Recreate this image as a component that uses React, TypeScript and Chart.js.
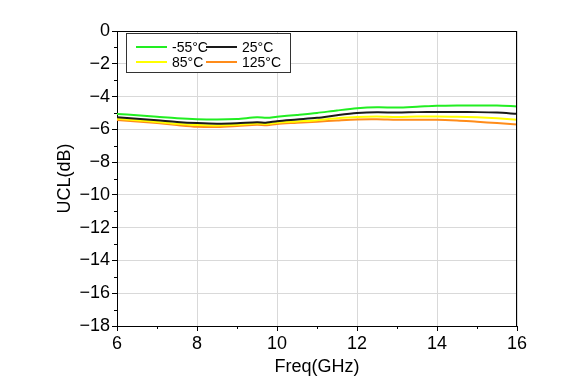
import React, { useEffect, useRef } from 'react';
import { Chart, registerables } from 'chart.js';

Chart.register(...registerables);

const freqGHz = [6, 6.5, 7, 7.5, 8, 8.5, 9, 9.5, 9.75, 10, 10.5, 11, 11.5, 12, 12.5, 13, 13.5, 14, 14.5, 15, 15.5, 16];
const uclM55 = [-5.06, -5.14, -5.23, -5.32, -5.38, -5.40, -5.37, -5.27, -5.30, -5.23, -5.12, -5.00, -4.85, -4.72, -4.66, -4.67, -4.62, -4.56, -4.54, -4.54, -4.55, -4.60];
const ucl25 = [-5.27, -5.36, -5.45, -5.55, -5.62, -5.66, -5.63, -5.57, -5.59, -5.50, -5.40, -5.30, -5.14, -5.01, -4.96, -4.98, -4.95, -4.94, -4.94, -4.95, -4.98, -5.05];
const ucl85 = [-5.36, -5.45, -5.55, -5.66, -5.74, -5.76, -5.72, -5.65, -5.68, -5.60, -5.52, -5.44, -5.33, -5.25, -5.22, -5.25, -5.22, -5.21, -5.23, -5.27, -5.33, -5.41];
const ucl125 = [-5.43, -5.52, -5.62, -5.74, -5.84, -5.86, -5.80, -5.72, -5.75, -5.67, -5.60, -5.53, -5.46, -5.40, -5.39, -5.42, -5.42, -5.41, -5.46, -5.54, -5.62, -5.71];

const seriesLabels = ['-55°C', '25°C', '85°C', '125°C'];
const seriesColors = ['#22ee22', '#1a1a1a', '#ffff00', '#ff8c1a'];
const xMinorTicks = [7, 9, 11, 13, 15];
const yMinorTicks = [-1, -3, -5, -7, -9, -11, -13, -15, -17];

const FONT = '"Liberation Sans", Arial, Helvetica, sans-serif';

const framePlugin = {
  id: 'frameAndMinor',
  afterDraw(chart: any) {
    const { ctx, chartArea: ca, scales } = chart;
    ctx.save();
    ctx.strokeStyle = '#000';
    ctx.lineWidth = 1;
    ctx.beginPath();
    const top = Math.round(ca.top) + 0.5;
    const right = Math.round(ca.right) - 0.5;
    ctx.moveTo(ca.left, top);
    ctx.lineTo(ca.right, top);
    ctx.moveTo(right, ca.top);
    ctx.lineTo(right, ca.bottom);
    const bottom = Math.round(ca.bottom);
    xMinorTicks.forEach((v) => {
      const px = Math.round(scales.x.getPixelForValue(v)) + 0.5;
      ctx.moveTo(px, bottom);
      ctx.lineTo(px, bottom + 3);
    });
    const left = Math.round(ca.left);
    yMinorTicks.forEach((v) => {
      const py = Math.round(scales.y.getPixelForValue(v)) + 0.5;
      ctx.moveTo(left, py);
      ctx.lineTo(left - 3, py);
    });
    ctx.stroke();

    // legend
    const x0 = Math.round(ca.left) + 9;
    const y0 = Math.round(ca.top) + 2;
    const w = 164;
    const h = 39;
    ctx.fillStyle = '#fff';
    ctx.fillRect(x0, y0, w, h);
    ctx.strokeStyle = '#333';
    ctx.strokeRect(x0 + 0.5, y0 + 0.5, w, h);
    ctx.font = `14px ${FONT}`;
    ctx.textBaseline = 'middle';
    ctx.textAlign = 'left';
    const cols = [x0 + 10, x0 + 80];
    const rows = [y0 + 14, y0 + 29];
    chart.data.datasets.forEach((ds: any, i: number) => {
      const cx = cols[i % 2];
      const cy = rows[Math.floor(i / 2)];
      ctx.strokeStyle = ds.borderColor;
      ctx.lineWidth = 2;
      ctx.beginPath();
      ctx.moveTo(cx, cy);
      ctx.lineTo(cx + 31, cy);
      ctx.stroke();
      ctx.fillStyle = '#000';
      ctx.fillText(ds.label, cx + 36, cy + 1);
    });
    ctx.restore();
  },
};

export default function App() {
  const ref = useRef<HTMLCanvasElement | null>(null);
  useEffect(() => {
    if (!ref.current) return;
    const series = [uclM55, ucl25, ucl85, ucl125];
    const chart = new Chart(ref.current, {
      type: 'line',
      data: {
        datasets: series.map((vals, i) => ({
          label: seriesLabels[i],
          data: freqGHz.map((f, j) => ({ x: f, y: vals[j] })),
          borderColor: seriesColors[i],
          backgroundColor: seriesColors[i],
          borderWidth: 2,
          pointRadius: 0,
          tension: 0.3,
          fill: false,
        })),
      },
      options: {
        animation: false,
        responsive: true,
        maintainAspectRatio: false,
        layout: { padding: { left: 0, top: 31, right: 62, bottom: 0 } },
        plugins: { legend: { display: false }, tooltip: { enabled: false } },
        scales: {
          x: {
            type: 'linear',
            min: 6,
            max: 16,
            afterFit: (s: any) => { s.height = 56; },
            ticks: { stepSize: 2, color: '#000', font: { family: FONT, size: 18 }, padding: 2, maxRotation: 0 },
            grid: { color: '#d9d9d9', lineWidth: 1, tickColor: '#000', tickLength: 5, drawTicks: true },
            border: { color: '#000', width: 1 },
            title: { display: true, text: 'Freq(GHz)', color: '#000', font: { family: FONT, size: 18 }, padding: { top: 0, bottom: 4 } },
          },
          y: {
            type: 'linear',
            min: -18,
            max: 0,
            afterFit: (s: any) => { s.width = 117; },
            ticks: {
              stepSize: 2,
              color: '#000',
              font: { family: FONT, size: 18 },
              padding: 2,
              callback: (v: any) => (Number(v) < 0 ? '\u2212' + Math.abs(Number(v)) : String(v)),
            },
            grid: { color: '#d9d9d9', lineWidth: 1, tickColor: '#000', tickLength: 5, drawTicks: true },
            border: { color: '#000', width: 1 },
            title: { display: true, text: 'UCL(dB)', color: '#000', font: { family: FONT, size: 18 }, padding: { top: 54, bottom: 0 } },
          },
        },
      },
      plugins: [framePlugin],
    } as any);
    return () => chart.destroy();
  }, []);
  return (
    <div style={{ position: 'fixed', left: 0, top: 0, width: 579, height: 382, background: '#fff' }}>
      <canvas ref={ref} />
    </div>
  );
}
